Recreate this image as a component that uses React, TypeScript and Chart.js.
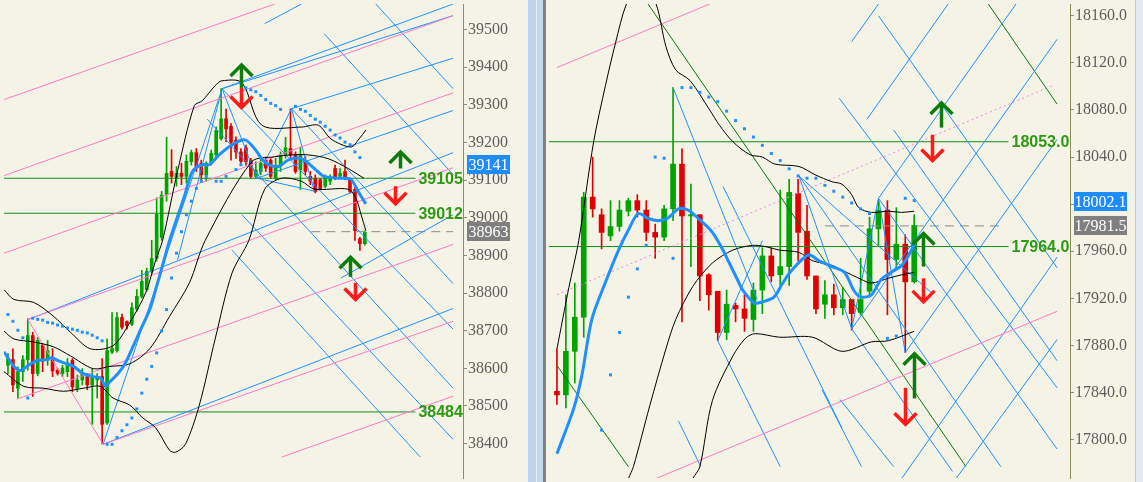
import React, { useEffect, useRef } from 'react';
import { Chart, registerables } from 'chart.js';
Chart.register(...registerables);

// ================= LEFT PANEL DATA (x = bar index, y = price) =================
const leftOpen = [38608,38623,38547,38591,38623,38687,38586,38662,38621,38626,38595,38586,38591,38621,38547,38569,38578,38556,38569,38578,38455,38643,38647,38735,38724,38717,38757,38791,38809,38857,38892,38948,39062,39123,39107,39118,39110,39149,39173,39145,39114,39145,39167,39210,39263,39243,39206,39175,39186,39153,39110,39123,39153,39153,39105,39140,39166,39184,39166,39127,39153,39110,39105,39101,39084,39097,39131,39110,39123,39101,39075,38944,38931];
const leftHigh = [38639,38652,38604,38634,38732,38696,38682,38665,38674,38652,38600,38608,38626,38626,38582,38599,38586,38599,38586,38626,38678,38748,38748,38744,38726,38774,38809,38860,38866,38940,39053,39070,39214,39181,39136,39145,39167,39180,39184,39153,39149,39180,39241,39343,39289,39250,39215,39184,39193,39158,39149,39158,39162,39158,39158,39175,39214,39289,39175,39188,39162,39123,39114,39105,39114,39114,39140,39131,39153,39105,39083,38948,38965];
const leftLow = [38586,38538,38521,38565,38595,38525,38580,38591,38608,38578,38582,38578,38578,38538,38538,38556,38543,38451,38521,38399,38451,38639,38643,38704,38704,38713,38752,38787,38805,38852,38885,38940,39044,39092,39084,39088,39092,39140,39123,39101,39097,39140,39158,39206,39202,39153,39158,39145,39140,39105,39105,39114,39123,39105,39101,39123,39158,39158,39118,39075,39114,39088,39066,39075,39079,39088,39101,39105,39101,39066,38940,38913,38927];
const leftClose = [38626,38556,38591,38623,38687,38586,38674,38619,38647,38593,38587,38601,38615,38551,38569,38586,38556,38575,38578,38451,38647,38652,38735,38709,38713,38761,38791,38831,38857,38892,39009,39060,39118,39110,39118,39110,39150,39173,39136,39114,39145,39171,39232,39263,39236,39201,39175,39150,39149,39110,39127,39145,39132,39110,39140,39167,39186,39166,39123,39166,39123,39097,39070,39077,39110,39105,39105,39118,39105,39070,38966,38931,38961];
const leftTicks = [38400,38500,38600,38700,38800,38900,39000,39100,39200,39300,39400,39500];
const leftMA = [[-0.8,38644],[1.2,38605],[2.6,38594],[3.8,38605],[5.8,38620],[7.8,38623],[8.8,38628],[10.2,38620],[11.8,38612],[13.2,38605],[15.2,38586],[17.2,38578],[18.8,38573],[19.6,38552],[20.6,38565],[22.2,38586],[23.6,38612],[25.2,38657],[26.8,38704],[28.6,38756],[29.8,38809],[31.2,38874],[32.6,38940],[34.2,39003],[35.6,39057],[37.2,39123],[39.2,39141],[40.6,39141],[42.6,39167],[45.2,39194],[47.8,39207],[49.8,39183],[51.2,39157],[52.6,39141],[54.6,39136],[56.6,39154],[59.2,39157],[61.8,39131],[63.8,39110],[67.2,39105],[69.2,39102],[70.6,39071],[72.2,39037]];
const leftBBUpper = [[-0.8,38809],[1.2,38783],[5.2,38775],[9.2,38738],[12.6,38696],[16.6,38652],[21.2,38660],[24.6,38722],[27.8,38801],[29.8,38887],[31.2,38940],[34.2,39123],[37.6,39298],[39.2,39311],[41.8,39351],[43.2,39364],[47.2,39359],[51.2,39246],[59.2,39241],[62.6,39246],[65.2,39209],[69.2,39188],[70.8,39209],[72.2,39233]];
const leftBBMiddle = [[-0.8,38699],[1.2,38678],[5.2,38670],[9.2,38657],[12.6,38633],[17.2,38599],[20.6,38605],[24.6,38612],[28.6,38652],[32.6,38738],[36.6,38827],[39.8,38940],[49.2,39149],[53.8,39162],[57.2,39167],[60.6,39167],[64.6,39157],[68.6,39131],[71.8,39105]];
const leftBBLower = [[-0.8,38591],[3.2,38552],[7.2,38547],[11.2,38539],[15.2,38547],[18.6,38552],[21.2,38521],[24.6,38502],[27.2,38468],[29.8,38442],[32.6,38382],[33.8,38377],[35.8,38398],[38.6,38502],[41.8,38678],[45.2,38853],[48.6,38940],[51.8,39076],[55.2,39105],[59.2,39097],[61.8,39076],[68.6,39076],[70.2,39052],[71.2,39010],[72.2,38966]];
const leftSar = [[0,38743],[1,38725],[2,38701],[3,38681],[4,38521],[5,38733],[6,38730],[7,38728],[8,38722],[9,38720],[10,38715],[11,38712],[12,38707],[13,38704],[14,38701],[15,38696],[16,38694],[17,38688],[18,38681],[19,38673],[20,38398],[21,38398],[22,38416],[23,38434],[24,38450],[25,38468],[26,38492],[27,38534],[28,38571],[29,38605],[30,38641],[31,38699],[32,38756],[33,38840],[34,38906],[35,38963],[36,39008],[37,39044],[38,39078],[39,39097],[40,39110],[42,39097],[43,39097],[44,39110],[46,39128],[47,39141],[48,39345],[49,39340],[50,39335],[51,39325],[52,39314],[53,39304],[54,39298],[55,39288],[58,39296],[59,39288],[60,39283],[61,39272],[62,39262],[63,39254],[64,39243],[65,39233],[66,39220],[67,39212],[68,39201],[69,39194],[70,39175],[71,39160]];
// trend segments [x1, y1, x2, y2]
const leftBlueLines = [
  [51.8,39516,59.2,39568],[43.2,39343,89.8,39568],[43.2,39343,89.8,39537],[57.2,39290,89.8,39424],
  [50.2,39105,89.8,39285],[4.2,38730,89.8,39173],[19.2,38398,89.8,38759],[67.2,38840,89.8,39008],
  [19.2,38398,43.2,39343],[34.2,38887,43.2,39343],[43.2,39343,50.2,39105],[50.2,39105,57.2,39290],
  [57.2,39290,61.8,39071],[50.2,39105,61.8,39071],
  [74.2,39568,89.8,39343],[63.8,39489,89.8,39115],[57.2,39290,89.8,38825],[43.2,39343,89.8,38704],
  [40.2,39262,89.8,38547],[47.2,39008,89.8,38411],[45.2,38914,83.2,38364]
];
const leftPinkLines = [
  [-0.8,39314,53.8,39568],[-0.8,39112,89.8,39537],[-0.8,38906,89.8,39332],[4.0,38730,89.8,39133],
  [1.8,38518,89.8,38929],[19.2,38398,89.8,38725],[55.2,38364,89.8,38526],[4.0,38730,19.2,38398]
];
const leftLevels = [39105, 39012, 38484];
const leftCurrent = 38963;
const leftBlueTag = 39141;
// arrows [x, tip price, tail price]
const leftArrows = [[47,39406,39345],[47,39293,39345],[79,39175,39131],[78,39037,39084],[69,38895,38843],[70,38783,38827]];

// ================= RIGHT PANEL DATA =================
const rightOpen = [17841,17838,17875,17904,18006,17991,17973,17981,17994,18003,17995,17976,17972,17996,18034,17990,17991,17940,17926,17891,17914,17911,17902,17927,17956,17940,17947,18009,17977,17939,17915,17923,17912,17919,17908,17926,17979,17995,17953,17966,17934];
const rightHigh = [17877,17923,17933,18010,18040,17996,18003,18003,18005,18008,18003,17983,17999,18099,18047,18017,17991,17941,17926,17927,17916,17923,17933,17963,17963,18012,18021,18021,17999,17939,17935,17932,17929,17919,17954,17989,18003,18003,17997,17974,17991];
const rightLow = [17830,17827,17848,17887,17989,17962,17969,17977,17990,17989,17969,17954,17969,17986,17900,17947,17918,17910,17884,17885,17900,17892,17892,17907,17934,17931,17931,17952,17936,17907,17903,17906,17906,17893,17906,17923,17964,17906,17945,17874,17933];
const rightClose = [17838,17875,17904,18006,17996,17976,17981,17995,18003,17995,17976,17972,17996,18034,17990,17991,17939,17923,17891,17915,17911,17903,17927,17956,17939,17947,18010,17976,17939,17911,17923,17912,17919,17907,17919,17979,17995,17953,17966,17934,17982];
const rightTicks = [17800,17840,17880,17920,17960,18000,18040,18080,18120,18160];
const rightMA = [[0,17788],[1.9,17827],[2.8,17855],[3.9,17902],[5.4,17933],[6.9,17961],[8.0,17978],[9.1,17992],[10.2,17988],[11.3,17986],[12.4,17988],[13.6,17996],[14.7,17995],[15.8,17988],[17.2,17978],[18.3,17965],[19.3,17950],[20.2,17936],[20.8,17927],[22.1,17916],[23.0,17917],[24.3,17921],[25.2,17932],[26.3,17944],[28.2,17957],[29.3,17952],[30.8,17947],[32.2,17942],[33.3,17926],[34.1,17921],[35.2,17923],[36.3,17936],[37.4,17942],[38.6,17948],[39.7,17961],[40.3,17971]];
const rightBBUpper = [[0,17877],[1.33,17929],[2.44,17969],[4.11,18053],[5.44,18101],[6.56,18137],[7.78,18170],[9.44,18191],[11.1,18170],[12.2,18134],[13.3,18114],[14.9,18105],[17.1,18080],[18.2,18067],[19.7,18053],[21.6,18042],[23.0,18040],[24.4,18034],[27.1,18032],[28.9,18025],[30.8,18019],[31.9,18017],[33.0,18008],[33.8,17997],[35.2,17993],[37.1,17994],[38.6,17993],[40.0,17994]];
const rightBBMiddle = [[8.0,17767],[8.56,17777],[10.4,17829],[12.2,17877],[13.3,17902],[15.2,17930],[17.4,17950],[19.7,17961],[21.9,17965],[23.3,17964],[24.9,17961],[27.1,17959],[28.6,17952],[30.8,17948],[31.9,17944],[34.1,17936],[35.2,17933],[37.1,17937],[38.6,17940],[40.0,17942]];
const rightBBLower = [[15.2,17767],[16.0,17777],[17.4,17833],[19.7,17871],[21.1,17886],[22.2,17890],[24.9,17887],[28.6,17887],[31.9,17875],[35.2,17883],[37.1,17884],[40.0,17892]];
const rightSar = [[5,17808],[6,17855],[7,17891],[8,17921],[9,17945],[10,17965],[11,18040],[12,18039],[13,17954],[14,18099],[15,18099],[16,18095],[17,18091],[18,18087],[19,18079],[20,18071],[21,18064],[22,18057],[23,18050],[24,18043],[25,18037],[26,18030],[27,18024],[28,18022],[29,18022],[30,18016],[31,18011],[32,18006],[33,18001],[34,17996],[35,17992],[37,17886],[38,17888],[39,18005],[40,18003]];
const rightBlueLines = [
  [33,18138,36,18170],[34.7,18072,43.8,18170],[36,18005,51.4,18170],[33,17894,56,18140],
  [39,17874,56,18055],[44.7,17767,56,17885],[38.6,17767,56,17955],
  [36,18160,56,17946],[31.6,18090,56,17844],[37.7,18063,56,17867],[27.1,18024,49.7,17777],
  [36,18005,56,17792],[33,17894,44.3,17773],
  [13,18099,22.4,17919],[18,17884,23,17969],[18,17884,25,17777],[18.6,18015,31.9,17810],
  [13.6,17816,16.1,17777],[27.1,18024,33,17894],[33,17894,36,18005],[36,18005,39,17874],
  [27.1,18024,41.9,17925],[29.7,17842,34.1,17777],[31.7,17834,37.7,17777]
];
const rightGreenLines = [[10.2,18170,45.8,17777],[0,17863,8.0,17777],[48.3,18170,56,18085]];
const rightPinkLines = [[0,18116,17.1,18170],[11.1,17767,56,17909]];
const rightVioletLines = [[0,17923,55.6,18101]];
const rightLevels = [18053.0, 17964.0];
const rightCurrent = 17981.5;
const rightBlueTag = 18002.1;
const rightArrows = [[43,18086,18065],[42,18037,18059],[41,17975,17947],[41,17917,17937],[40,17873,17835],[39,17813,17844]];

// ================= STYLE =================
const BG = '#F5F3E6';
const CANDLE_UP = '#00A400';
const CANDLE_DN = '#E00000';
const BLUE = '#1E90FF';
const PINK = '#FF78C8';
const LEVEL = '#138C13';
const LEVEL_TXT = '#2E9A14';
const AXIS = '#8E8C5A';
const TICK_TXT = '#5E5E5E';
const SERIF = "'Liberation Serif', 'DejaVu Serif', serif";
const SANS = "'Liberation Sans', Arial, sans-serif";

type Panel = {
  open: number[]; high: number[]; low: number[]; close: number[];
  ticks: number[]; decimals: number;
  xMin: number; xMax: number; yMin: number; yMax: number;
  axisWidth: number; bodyWidth: number;
  ma: number[][]; bbU: number[][]; bbM: number[][]; bbL: number[][]; sar: number[][];
  blue: number[][]; pink: number[][]; green: number[][]; violet: number[][];
  levels: number[]; levelEnd: number; current: number; curFrom: number; curTo: number;
  blueTag: number; tagWidth: number; arrows: number[][];
};

const pts = (a: number[][]) => a.map(([x, y]) => ({ x, y }));

function segDatasets(list: number[][], color: string, width: number, dash?: number[]) {
  return list.map(([x1, y1, x2, y2]) => ({
    type: 'line' as const,
    data: [{ x: x1, y: y1 }, { x: x2, y: y2 }],
    borderColor: color, borderWidth: width, borderDash: dash || [],
    pointRadius: 0, fill: false, tension: 0, order: 5,
  }));
}

function makeConfig(p: Panel): any {
  const colors = p.open.map((o, i) => (p.close[i] >= o ? CANDLE_UP : CANDLE_DN));
  const wicks = p.open.map((_, i) => ({ x: i, y: [p.low[i], p.high[i]] }));
  const bodies = p.open.map((o, i) => ({ x: i, y: [Math.min(o, p.close[i]), Math.max(o, p.close[i])] }));
  const lineDs = (data: number[][], color: string, width: number, order: number) => ({
    type: 'line', data: pts(data), borderColor: color, borderWidth: width,
    pointRadius: 0, fill: false, tension: 0.3, order,
  });
  const fmt = (v: number) => v.toFixed(p.decimals);

  const datasets: any[] = [
    { type: 'bar', data: wicks, backgroundColor: colors, barThickness: 1, grouped: false, order: 20, borderWidth: 0 },
    { type: 'bar', data: bodies, backgroundColor: colors, barThickness: p.bodyWidth, grouped: false, order: 19, borderWidth: 0, minBarLength: 1 },
    ...segDatasets(p.pink, PINK, 1),
    ...segDatasets(p.blue, BLUE, 1),
    ...segDatasets(p.green, '#0A780A', 1),
    ...segDatasets(p.violet, '#EE82EE', 1, [2, 3]),
    ...segDatasets(p.levels.map((v) => [p.xMin, v, p.levelEnd, v]), LEVEL, 1),
    ...segDatasets([[p.curFrom, p.current, p.curTo, p.current]], '#8A8A8A', 1, [9, 6]),
    lineDs(p.bbU, '#000000', 1, 3),
    lineDs(p.bbM, '#000000', 1, 3),
    lineDs(p.bbL, '#000000', 1, 3),
    lineDs(p.ma, BLUE, 3, 1),
    {
      type: 'line', data: pts(p.sar), showLine: false, pointStyle: 'rect', pointRadius: 2.1,
      pointBackgroundColor: BLUE, pointBorderWidth: 0, order: 2,
    },
  ];

  const overlay = {
    id: 'overlay',
    afterDatasetsDraw(chart: any) {
      const { ctx, chartArea } = chart;
      const xs = chart.scales.x, ys = chart.scales.y;
      ctx.save();
      ctx.beginPath();
      ctx.rect(chartArea.left, chartArea.top, chartArea.right - chartArea.left, chartArea.bottom - chartArea.top);
      ctx.clip();
      // level labels
      ctx.font = `bold 16px ${SANS}`;
      ctx.fillStyle = LEVEL_TXT;
      ctx.textBaseline = 'middle';
      ctx.textAlign = 'left';
      const lx = xs.getPixelForValue(p.levelEnd) + 3;
      p.levels.forEach((v) => ctx.fillText(fmt(v), lx, ys.getPixelForValue(v) + 1));
      // arrows
      ctx.lineWidth = 3.5;
      ctx.lineJoin = 'miter';
      ctx.lineCap = 'butt';
      p.arrows.forEach(([xi, tip, tail]) => {
        const up = tip > tail;
        const x = Math.round(xs.getPixelForValue(xi)) + 0.5;
        const yt = ys.getPixelForValue(tip);
        const yb = ys.getPixelForValue(tail);
        const d = up ? 1 : -1;
        ctx.strokeStyle = up ? '#0C7C0C' : '#FF1A1A';
        ctx.beginPath();
        ctx.moveTo(x, yb);
        ctx.lineTo(x, yt + d * 2);
        ctx.stroke();
        ctx.beginPath();
        ctx.moveTo(x - 11, yt + d * 11);
        ctx.lineTo(x, yt);
        ctx.lineTo(x + 11, yt + d * 11);
        ctx.stroke();
      });
      ctx.restore();
    },
    afterDraw(chart: any) {
      const { ctx, chartArea } = chart;
      const ys = chart.scales.y;
      const x0 = chartArea.right + 4;
      ctx.save();
      ctx.font = `16px ${SERIF}`;
      ctx.textBaseline = 'middle';
      ctx.textAlign = 'center';
      const tag = (v: number, bg: string) => {
        const y = ys.getPixelForValue(v);
        ctx.fillStyle = bg;
        ctx.fillRect(x0, Math.round(y - 9.5), p.tagWidth, 19);
        ctx.fillStyle = '#FFFFFF';
        ctx.fillText(fmt(v), x0 + p.tagWidth / 2, y + 1);
      };
      tag(p.blueTag, '#1E8BFF');
      tag(p.current, '#7F7F7F');
      ctx.restore();
    },
  };

  return {
    type: 'bar',
    data: { datasets },
    options: {
      animation: false,
      responsive: false,
      maintainAspectRatio: false,
      devicePixelRatio: 1,
      layout: { padding: 0 },
      events: [],
      plugins: { legend: { display: false }, tooltip: { enabled: false }, title: { display: false } },
      scales: {
        x: { type: 'linear', display: false, min: p.xMin, max: p.xMax, offset: false },
        y: {
          type: 'linear', position: 'right', min: p.yMin, max: p.yMax,
          afterBuildTicks: (s: any) => { s.ticks = p.ticks.map((v) => ({ value: v })); },
          afterFit: (s: any) => { s.width = p.axisWidth; s.paddingTop = 0; s.paddingBottom = 0; },
          grid: { drawOnChartArea: false, drawTicks: true, tickLength: 4, color: '#8a8a8a', offset: false },
          border: { display: true, color: AXIS, width: 1 },
          ticks: {
            padding: 1, color: TICK_TXT, font: { family: SERIF, size: 16 },
            callback: (v: any) => Number(v).toFixed(p.decimals),
          },
        },
      },
    },
    plugins: [overlay],
  };
}

const leftPanel: Panel = {
  open: leftOpen, high: leftHigh, low: leftLow, close: leftClose, ticks: leftTicks, decimals: 0,
  xMin: -0.8, xMax: 91.8, yMin: 38308.5, yMax: 39568, axisWidth: 65, bodyWidth: 3,
  ma: leftMA, bbU: leftBBUpper, bbM: leftBBMiddle, bbL: leftBBLower, sar: leftSar,
  blue: leftBlueLines, pink: leftPinkLines, green: [], violet: [],
  levels: leftLevels, levelEnd: 82.2, current: leftCurrent, curFrom: 61.2, curTo: 89.8,
  blueTag: leftBlueTag, tagWidth: 43, arrows: leftArrows,
};

const rightPanel: Panel = {
  open: rightOpen, high: rightHigh, low: rightLow, close: rightClose, ticks: rightTicks, decimals: 1,
  xMin: -0.8889, xMax: 57.444, yMin: 17767.4, yMax: 18170, axisWidth: 73, bodyWidth: 5,
  ma: rightMA, bbU: rightBBUpper, bbM: rightBBMiddle, bbL: rightBBLower, sar: rightSar,
  blue: rightBlueLines, pink: rightPinkLines, green: rightGreenLines, violet: rightVioletLines,
  levels: rightLevels, levelEnd: 50.56, current: rightCurrent, curFrom: 30, curTo: 49.7,
  blueTag: rightBlueTag, tagWidth: 53, arrows: rightArrows,
};

export default function App() {
  const leftRef = useRef<HTMLCanvasElement>(null);
  const rightRef = useRef<HTMLCanvasElement>(null);
  useEffect(() => {
    const c1 = new Chart(leftRef.current as HTMLCanvasElement, makeConfig(leftPanel));
    const c2 = new Chart(rightRef.current as HTMLCanvasElement, makeConfig(rightPanel));
    return () => { c1.destroy(); c2.destroy(); };
  }, []);
  return (
    <div style={{ position: 'fixed', left: 0, top: 0, width: 1143, height: 482, background: BG, overflow: 'hidden' }}>
      <canvas ref={leftRef} width={528} height={482} style={{ position: 'absolute', left: 0, top: 0, width: 528, height: 482 }} />
      <canvas ref={rightRef} width={598} height={482} style={{ position: 'absolute', left: 545, top: 0, width: 598, height: 482 }} />
      <div style={{ position: 'absolute', left: 528, top: 0, width: 8, height: 482, background: '#BCD3EB' }} />
      <div style={{ position: 'absolute', left: 536, top: 0, width: 1, height: 482, background: '#E6EEF7' }} />
      <div style={{ position: 'absolute', left: 537, top: 0, width: 6, height: 482, background: '#C3D7EC' }} />
      <div style={{ position: 'absolute', left: 543, top: 0, width: 2, height: 482, background: '#808080' }} />
      <div style={{ position: 'absolute', left: 545, top: 0, width: 1, height: 482, background: AXIS }} />
      <div style={{ position: 'absolute', left: 1135, top: 0, width: 1, height: 482, background: '#C8C8C8' }} />
      <div style={{ position: 'absolute', left: 1136, top: 0, width: 7, height: 482, background: '#E4EAF1' }} />
    </div>
  );
}
